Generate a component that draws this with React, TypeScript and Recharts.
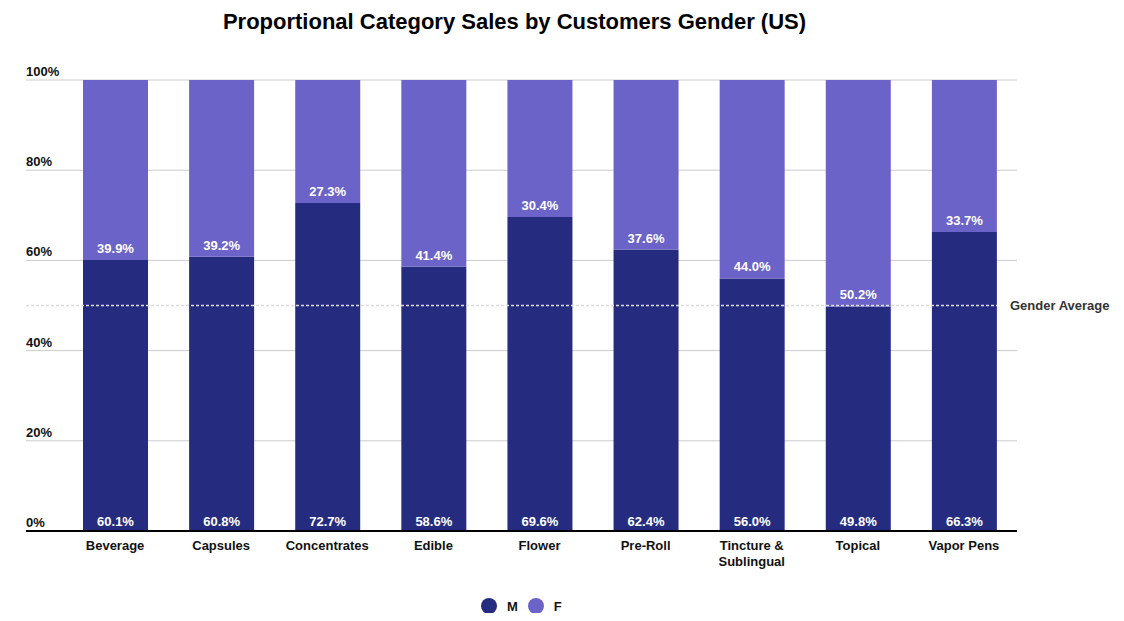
import { Bar, BarChart, CartesianGrid, LabelList, ReferenceLine, Text, XAxis, YAxis } from "recharts";

const categories = [
  "Beverage",
  "Capsules",
  "Concentrates",
  "Edible",
  "Flower",
  "Pre-Roll",
  "Tincture & Sublingual",
  "Topical",
  "Vapor Pens",
];
const maleShare = [60.1, 60.8, 72.7, 58.6, 69.6, 62.4, 56.0, 49.8, 66.3];
const femaleShare = [39.9, 39.2, 27.3, 41.4, 30.4, 37.6, 44.0, 50.2, 33.7];
const yTicks = [0, 20, 40, 60, 80, 100];
const genderAverage = 50;

const data = categories.map((category, i) => ({
  category,
  M: maleShare[i],
  F: femaleShare[i],
}));

const FONT = "'Liberation Sans', Arial, sans-serif";
const M_COLOR = "#252c80";
const F_COLOR = "#6b63c7";
const LEFT = 18;
const PLOT_LEFT = 54;

const fmt = (v: number) => `${Number(v).toFixed(1)}%`;

function YTick(props: any) {
  const { y, payload } = props;
  const zero = payload.value === 0;
  return (
    <g>
      <line
        x1={LEFT}
        x2={PLOT_LEFT}
        y1={y}
        y2={y}
        stroke={zero ? "#000" : "#ccc"}
        strokeWidth={zero ? 2 : 1}
      />
      <text x={LEFT} y={y - 4} fontSize={13} fontWeight="bold" fill="#111" fontFamily={FONT}>
        {payload.value}%
      </text>
    </g>
  );
}

function XTick(props: any) {
  const { x, y, payload } = props;
  return (
    <Text
      x={x}
      y={y + 1.5}
      width={95}
      textAnchor="middle"
      verticalAnchor="start"
      lineHeight={16}
      fontSize={13}
      fontWeight="bold"
      fill="#111"
      fontFamily={FONT}
    >
      {payload.value}
    </Text>
  );
}

const barLabel = (offset: number) => (props: any) => {
  const { x, y, width, height, value } = props;
  return (
    <text
      x={x + width / 2}
      y={y + height - offset}
      textAnchor="middle"
      fontSize={13}
      fontWeight="bold"
      fill="#fff"
      fontFamily={FONT}
    >
      {fmt(value)}
    </text>
  );
};

function AverageLine(props: any) {
  const { y1 } = props;
  return (
    <g>
      <line x1={LEFT} x2={989} y1={y1} y2={y1} stroke="#dcdcdc" strokeWidth={1.5} strokeDasharray="3 2" />
      <text x={1002} y={y1 + 4.5} fontSize={13} fontWeight="bold" fill="#333" fontFamily={FONT}>
        Gender Average
      </text>
    </g>
  );
}

export default function App() {
  return (
    <div style={{ position: "relative", width: 1108, height: 605, fontFamily: FONT }}>
      <div
        style={{
          position: "absolute",
          left: 0,
          top: 1,
          width: 1013,
          textAlign: "center",
          fontSize: 22,
          lineHeight: "26px",
          fontWeight: "bold",
          color: "#000",
        }}
      >
        Proportional Category Sales by Customers Gender (US)
      </div>
      <BarChart
        width={1108}
        height={575}
        data={data}
        margin={{ top: 72, right: 99, left: LEFT, bottom: 0 }}
        barSize={65}
      >
        <CartesianGrid vertical={false} stroke="#ccc" />
        <XAxis
          dataKey="category"
          interval={0}
          height={52}
          tickLine={false}
          axisLine={{ stroke: "#000", strokeWidth: 2 }}
          tick={<XTick />}
        />
        <YAxis
          domain={[0, 100]}
          ticks={yTicks}
          width={36}
          axisLine={false}
          tickLine={false}
          tick={<YTick />}
        />
        <Bar dataKey="M" stackId="g" fill={M_COLOR} isAnimationActive={false}>
          <LabelList dataKey="M" content={barLabel(5)} />
        </Bar>
        <Bar dataKey="F" stackId="g" fill={F_COLOR} isAnimationActive={false}>
          <LabelList dataKey="F" content={barLabel(7)} />
        </Bar>
        <ReferenceLine y={genderAverage} shape={<AverageLine />} />
      </BarChart>
      <div
        style={{
          position: "absolute",
          left: 473,
          top: 590,
          display: "flex",
          alignItems: "center",
          fontSize: 13,
          fontWeight: "bold",
          color: "#111",
        }}
      >
        {[
          { name: "M", color: M_COLOR },
          { name: "F", color: F_COLOR },
        ].map((item) => (
          <div key={item.name} style={{ display: "flex", alignItems: "center", marginRight: 10 }}>
            <span
              style={{
                width: 16,
                height: 16,
                borderRadius: "50%",
                background: item.color,
                display: "inline-block",
                marginRight: 10,
              }}
            />
            <span>{item.name}</span>
          </div>
        ))}
      </div>
    </div>
  );
}
